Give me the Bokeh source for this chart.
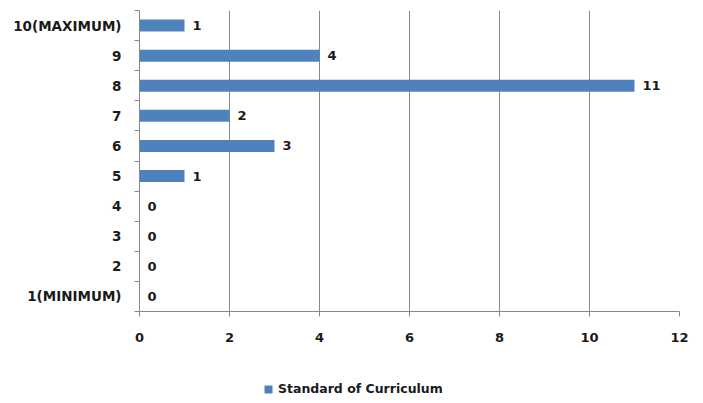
from bokeh.plotting import figure
from bokeh.models import ColumnDataSource, FixedTicker, Range1d, Legend, LegendItem
from bokeh.layouts import column
from bokeh.embed import file_html
from bokeh.resources import INLINE
from bokeh.core.properties import value

categories = ["1(MINIMUM)", "2", "3", "4", "5", "6", "7", "8", "9", "10(MAXIMUM)"]
counts = [0, 0, 0, 0, 1, 3, 2, 11, 4, 1]
x_ticks = [0, 2, 4, 6, 8, 10, 12]
series_name = "Standard of Curriculum"

ypos = [i + 0.5 for i in range(len(categories))]
src = ColumnDataSource(dict(y=ypos, v=counts, lab=[str(c) for c in counts]))

FONT = "DejaVu Sans"
TXT = "#1a1a1a"
GRID = "#888888"
BAR = "#4F81BD"

p = figure(frame_width=540, frame_height=301, output_backend="svg", toolbar_location=None,
           x_range=Range1d(0, 12), y_range=Range1d(0, len(categories)),
           min_border_left=139, min_border_right=16, min_border_top=10,
           min_border_bottom=55)
p.outline_line_color = None
p.background_fill_color = "white"

bars = p.hbar(y="y", right="v", left=0, height=0.4, source=src,
              fill_color=BAR, line_color=None)
p.text(x="v", y="y", text="lab", source=src, x_offset=8,
       text_align="left", text_baseline="middle", text_font=value(FONT),
       text_font_style="bold", text_font_size="13px", text_color=TXT)

# x axis
p.xaxis.ticker = FixedTicker(ticks=x_ticks)
p.xaxis.axis_line_color = GRID
p.xaxis.major_tick_line_color = GRID
p.xaxis.major_tick_out = 5
p.xaxis.major_tick_in = 0
p.xaxis.minor_tick_line_color = None
p.xaxis.major_label_standoff = 16
p.xaxis.major_label_text_font = FONT
p.xaxis.major_label_text_font_style = "bold"
p.xaxis.major_label_text_font_size = "13px"
p.xaxis.major_label_text_color = TXT

# y axis: labels at centres, tick marks at boundaries
p.yaxis.ticker = FixedTicker(ticks=ypos, minor_ticks=list(range(len(categories) + 1)))
p.yaxis.major_label_overrides = {y: c for y, c in zip(ypos, categories)}
p.yaxis.axis_line_color = GRID
p.yaxis.major_tick_line_color = None
p.yaxis.major_tick_out = 6
p.yaxis.major_tick_in = 0
p.yaxis.minor_tick_line_color = GRID
p.yaxis.minor_tick_out = 5
p.yaxis.minor_tick_in = 0
p.yaxis.major_label_standoff = 12
p.yaxis.major_label_text_font = FONT
p.yaxis.major_label_text_font_style = "bold"
p.yaxis.major_label_text_font_size = "13.5px"
p.yaxis.major_label_text_color = TXT

p.ygrid.grid_line_color = None
p.xgrid.ticker = FixedTicker(ticks=x_ticks[1:])
p.xgrid.grid_line_color = GRID
p.xgrid.grid_line_width = 1

# legend strip below the chart (its bars lie outside its view; only the legend shows)
p2 = figure(width=695, height=44, output_backend="svg", toolbar_location=None,
            x_axis_type=None, y_axis_type=None, min_border=0,
            x_range=Range1d(1000, 1001), y_range=Range1d(1000, 1001))
p2.outline_line_color = None
p2.grid.grid_line_color = None
swatch = p2.hbar(y="y", right="v", left=0, height=0.4, source=src,
                 fill_color=BAR, line_color=None)
legend = Legend(items=[LegendItem(label=series_name, renderers=[swatch])],
                location=(124, 14), orientation="horizontal",
                glyph_width=10, glyph_height=10, label_text_font=FONT,
                label_text_font_style="bold",
                label_text_font_size="12.5px", label_text_color=TXT,
                border_line_color=None, background_fill_alpha=0,
                margin=0, padding=0, spacing=0, label_standoff=5,
                label_height=12)
p2.add_layout(legend, "center")

layout = column(p, p2)
open("out.html", "w").write(file_html(layout, INLINE))
